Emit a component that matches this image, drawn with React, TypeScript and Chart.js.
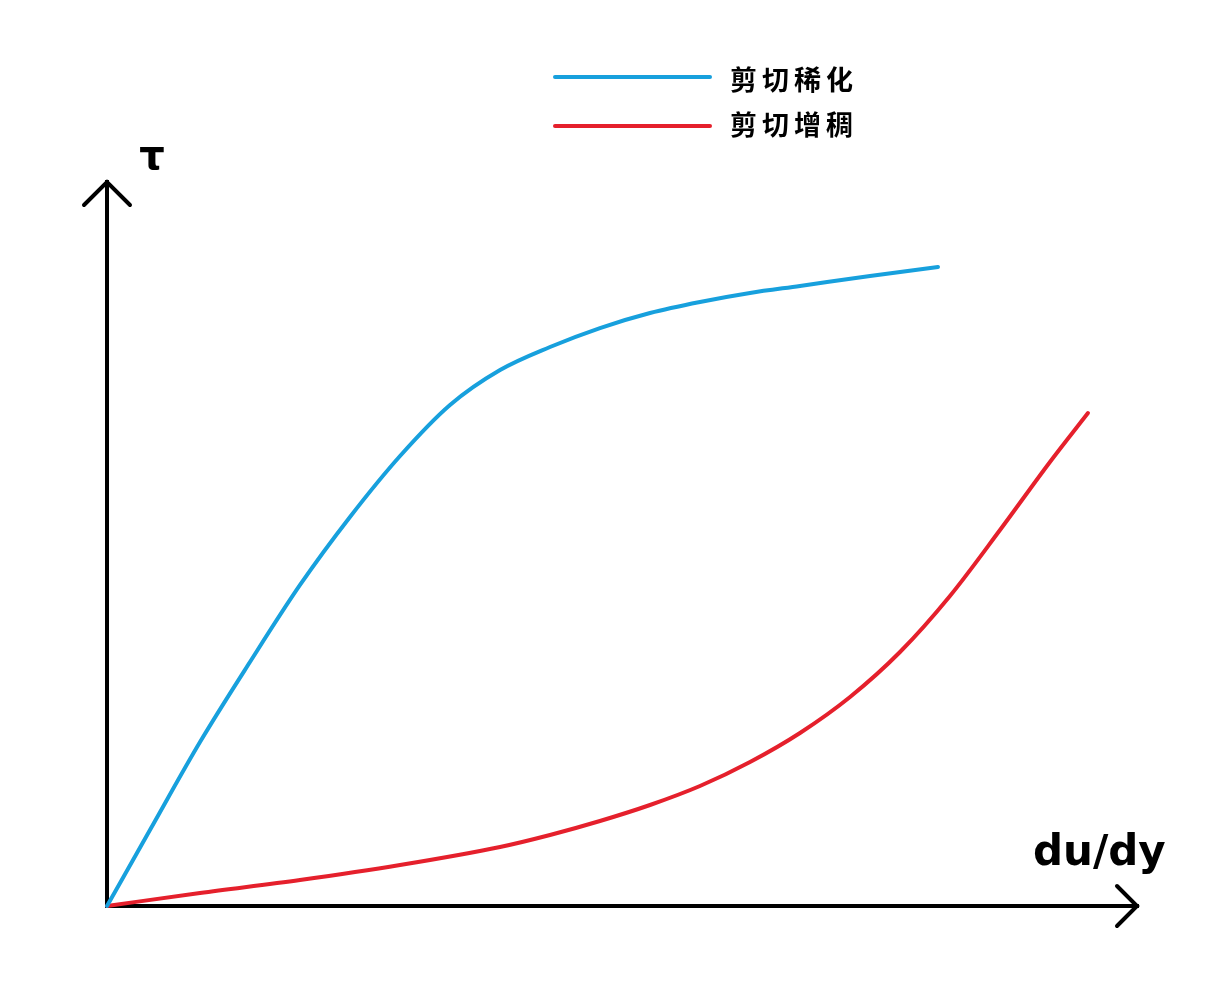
import React, { useEffect, useRef } from 'react';
import { Chart, registerables } from 'chart.js';

Chart.register(...registerables);

// Series labels
const seriesLabels = ['剪切稀化', '剪切增稠'];

// Shear-thinning curve (x = du/dy, y = τ), arbitrary units 0..100
const thinningX = [0, 4.17, 9.03, 13.88, 18.74, 23.59, 28.45, 33.30, 38.16, 43.01, 47.86, 52.72, 57.57, 62.43, 67.28, 74.08, 80.68];
const thinningY = [0, 10.5, 22.65, 33.7, 44.34, 53.73, 62.15, 69.2, 74.03, 77.21, 79.83, 81.91, 83.43, 84.67, 85.64, 87.02, 88.26];

// Shear-thickening curve
const thickeningX = [0, 9.03, 18.74, 28.45, 38.16, 43.01, 47.86, 52.72, 57.57, 62.43, 67.28, 72.14, 76.99, 81.84, 86.7, 91.55, 95.24];
const thickeningY = [0, 1.8, 3.59, 5.66, 8.15, 9.81, 11.74, 13.95, 16.57, 19.89, 23.9, 28.87, 35.08, 42.82, 51.93, 61.33, 68.09];

// Axis labels
const yAxisLabel = 'τ';
const xAxisLabel = 'du/dy';

const BLUE = '#17a0dd';
const RED = '#e5202c';

const axesPlugin = {
  id: 'customAxes',
  beforeDatasetsDraw(chart: any) {
    const { ctx, scales } = chart;
    const xs = scales.x;
    const ys = scales.y;
    const x0 = xs.getPixelForValue(0);
    const x1 = xs.getPixelForValue(100);
    const y0 = ys.getPixelForValue(0);
    const y1 = ys.getPixelForValue(100);
    ctx.save();
    ctx.strokeStyle = '#000';
    ctx.lineWidth = 4;
    ctx.lineJoin = 'miter';
    ctx.lineCap = 'square';
    ctx.beginPath();
    ctx.moveTo(x0, y1);
    ctx.lineTo(x0, y0);
    ctx.lineTo(x1, y0);
    ctx.stroke();
    ctx.lineCap = 'round';
    ctx.beginPath();
    ctx.moveTo(x0 - 23, y1 + 23);
    ctx.lineTo(x0, y1);
    ctx.lineTo(x0 + 23, y1 + 23);
    ctx.stroke();
    ctx.beginPath();
    ctx.moveTo(x1 - 20, y0 - 20);
    ctx.lineTo(x1, y0);
    ctx.lineTo(x1 - 20, y0 + 20);
    ctx.stroke();
    ctx.restore();
  },
  afterDraw(chart: any) {
    const { ctx, scales } = chart;
    const xs = scales.x;
    const ys = scales.y;
    const x0 = xs.getPixelForValue(0);
    const x1 = xs.getPixelForValue(100);
    const y0 = ys.getPixelForValue(0);
    const y1 = ys.getPixelForValue(100);
    ctx.save();
    ctx.fillStyle = '#000';
    ctx.textBaseline = 'alphabetic';
    ctx.textAlign = 'center';
    ctx.font = 'bold 40px "DejaVu Sans"';
    ctx.fillText(yAxisLabel, x0 + 45, y1 - 13);
    ctx.textAlign = 'left';
    ctx.font = 'bold 42px "DejaVu Sans"';
    ctx.fillText(xAxisLabel, x1 - 104, y0 - 41);

    // legend
    const items = chart.data.datasets;
    const rowY = [77, 126];
    const textY = [80, 125];
    items.forEach((ds: any, i: number) => {
      ctx.strokeStyle = ds.borderColor;
      ctx.lineWidth = 4;
      ctx.lineCap = 'round';
      ctx.beginPath();
      ctx.moveTo(555, rowY[i]);
      ctx.lineTo(710, rowY[i]);
      ctx.stroke();
      ctx.fillStyle = '#000';
      ctx.font = 'bold 27px "Noto Sans CJK SC"';
      ctx.textBaseline = 'middle';
      ctx.textAlign = 'left';
      const chars = Array.from(ds.label as string);
      chars.forEach((c, k) => {
        ctx.fillText(c, 730 + k * 32, textY[i]);
      });
    });
    ctx.restore();
  },
};

export default function App() {
  const canvasRef = useRef<HTMLCanvasElement | null>(null);

  useEffect(() => {
    const canvas = canvasRef.current;
    if (!canvas) return;
    const chart = new Chart(canvas, {
      type: 'line',
      data: {
        datasets: [
          {
            label: seriesLabels[0],
            data: thinningX.map((x, i) => ({ x, y: thinningY[i] })),
            borderColor: BLUE,
            borderWidth: 4,
            pointRadius: 0,
            cubicInterpolationMode: 'monotone',
            clip: false,
            borderCapStyle: 'round',
          },
          {
            label: seriesLabels[1],
            data: thickeningX.map((x, i) => ({ x, y: thickeningY[i] })),
            borderColor: RED,
            borderWidth: 4,
            pointRadius: 0,
            cubicInterpolationMode: 'monotone',
            clip: false,
            borderCapStyle: 'round',
          },
        ],
      },
      options: {
        animation: false,
        responsive: false,
        devicePixelRatio: 1,
        layout: { padding: { left: 107, right: 90, top: 182, bottom: 81 } },
        scales: {
          x: { type: 'linear', min: 0, max: 100, display: false },
          y: { type: 'linear', min: 0, max: 100, display: false },
        },
        plugins: {
          legend: { display: false },
          tooltip: { enabled: false },
        },
      } as any,
      plugins: [axesPlugin],
    });
    return () => chart.destroy();
  }, []);

  return (
    <div style={{ position: 'fixed', left: 0, top: 0, width: 1227, height: 987, background: '#fff' }}>
      <canvas ref={canvasRef} width={1227} height={987} style={{ display: 'block', width: 1227, height: 987 }} />
    </div>
  );
}
